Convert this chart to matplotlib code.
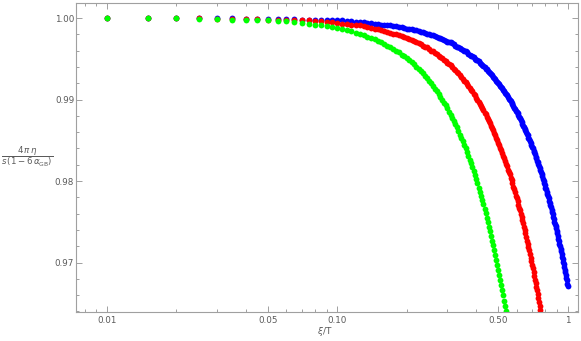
import matplotlib
matplotlib.use("Agg")
import matplotlib.pyplot as plt
import matplotlib.ticker as mticker

# sample points xi/T (step 0.005)
xi_T = [
    0.010, 0.015, 0.020, 0.025, 0.030, 0.035, 0.040, 0.045, 0.050, 0.055,
    0.060, 0.065, 0.070, 0.075, 0.080, 0.085, 0.090, 0.095, 0.100, 0.105,
    0.110, 0.115, 0.120, 0.125, 0.130, 0.135, 0.140, 0.145, 0.150, 0.155,
    0.160, 0.165, 0.170, 0.175, 0.180, 0.185, 0.190, 0.195, 0.200, 0.205,
    0.210, 0.215, 0.220, 0.225, 0.230, 0.235, 0.240, 0.245, 0.250, 0.255,
    0.260, 0.265, 0.270, 0.275, 0.280, 0.285, 0.290, 0.295, 0.300, 0.305,
    0.310, 0.315, 0.320, 0.325, 0.330, 0.335, 0.340, 0.345, 0.350, 0.355,
    0.360, 0.365, 0.370, 0.375, 0.380, 0.385, 0.390, 0.395, 0.400, 0.405,
    0.410, 0.415, 0.420, 0.425, 0.430, 0.435, 0.440, 0.445, 0.450, 0.455,
    0.460, 0.465, 0.470, 0.475, 0.480, 0.485, 0.490, 0.495, 0.500, 0.505,
    0.510, 0.515, 0.520, 0.525, 0.530, 0.535, 0.540, 0.545, 0.550, 0.555,
    0.560, 0.565, 0.570, 0.575, 0.580, 0.585, 0.590, 0.595, 0.600, 0.605,
    0.610, 0.615, 0.620, 0.625, 0.630, 0.635, 0.640, 0.645, 0.650, 0.655,
    0.660, 0.665, 0.670, 0.675, 0.680, 0.685, 0.690, 0.695, 0.700, 0.705,
    0.710, 0.715, 0.720, 0.725, 0.730, 0.735, 0.740, 0.745, 0.750, 0.755,
    0.760, 0.765, 0.770, 0.775, 0.780, 0.785, 0.790, 0.795, 0.800, 0.805,
    0.810, 0.815, 0.820, 0.825, 0.830, 0.835, 0.840, 0.845, 0.850, 0.855,
    0.860, 0.865, 0.870, 0.875, 0.880, 0.885, 0.890, 0.895, 0.900, 0.905,
    0.910, 0.915, 0.920, 0.925, 0.930, 0.935, 0.940, 0.945, 0.950, 0.955,
    0.960, 0.965, 0.970, 0.975, 0.980, 0.985, 0.990, 0.995, 1.000,
]

ratio_blue = [
    1.0000, 1.0000, 1.0000, 1.0000, 1.0000, 1.0000, 0.9999, 0.9999, 0.9999, 0.9999,
    0.9999, 0.9999, 0.9998, 0.9998, 0.9998, 0.9998, 0.9997, 0.9997, 0.9997, 0.9997,
    0.9996, 0.9996, 0.9995, 0.9995, 0.9995, 0.9994, 0.9994, 0.9993, 0.9993, 0.9992,
    0.9992, 0.9991, 0.9991, 0.9990, 0.9990, 0.9989, 0.9989, 0.9988, 0.9987, 0.9987,
    0.9986, 0.9985, 0.9985, 0.9984, 0.9983, 0.9983, 0.9982, 0.9981, 0.9980, 0.9979,
    0.9979, 0.9978, 0.9977, 0.9976, 0.9975, 0.9974, 0.9973, 0.9972, 0.9971, 0.9970,
    0.9970, 0.9969, 0.9968, 0.9966, 0.9965, 0.9964, 0.9963, 0.9962, 0.9961, 0.9960,
    0.9959, 0.9958, 0.9956, 0.9955, 0.9954, 0.9953, 0.9952, 0.9950, 0.9949, 0.9948,
    0.9947, 0.9945, 0.9944, 0.9942, 0.9941, 0.9940, 0.9938, 0.9937, 0.9935, 0.9934,
    0.9933, 0.9931, 0.9930, 0.9928, 0.9927, 0.9925, 0.9923, 0.9922, 0.9920, 0.9919,
    0.9917, 0.9915, 0.9914, 0.9912, 0.9910, 0.9908, 0.9907, 0.9905, 0.9903, 0.9901,
    0.9900, 0.9898, 0.9896, 0.9894, 0.9892, 0.9890, 0.9888, 0.9886, 0.9885, 0.9883,
    0.9881, 0.9879, 0.9877, 0.9875, 0.9873, 0.9870, 0.9868, 0.9866, 0.9864, 0.9862,
    0.9860, 0.9858, 0.9856, 0.9853, 0.9851, 0.9849, 0.9847, 0.9844, 0.9842, 0.9840,
    0.9837, 0.9835, 0.9833, 0.9830, 0.9828, 0.9825, 0.9823, 0.9821, 0.9818, 0.9816,
    0.9813, 0.9811, 0.9808, 0.9806, 0.9803, 0.9800, 0.9798, 0.9795, 0.9792, 0.9790,
    0.9787, 0.9784, 0.9782, 0.9779, 0.9776, 0.9773, 0.9771, 0.9768, 0.9765, 0.9762,
    0.9759, 0.9756, 0.9753, 0.9750, 0.9747, 0.9745, 0.9742, 0.9739, 0.9736, 0.9732,
    0.9729, 0.9726, 0.9723, 0.9720, 0.9717, 0.9714, 0.9711, 0.9707, 0.9704, 0.9701,
    0.9698, 0.9694, 0.9691, 0.9688, 0.9685, 0.9681, 0.9678, 0.9674, 0.9671,
]

ratio_red = [
    1.0000, 1.0000, 1.0000, 1.0000, 0.9999, 0.9999, 0.9999, 0.9999, 0.9998, 0.9998,
    0.9998, 0.9997, 0.9997, 0.9997, 0.9996, 0.9996, 0.9995, 0.9995, 0.9994, 0.9993,
    0.9993, 0.9992, 0.9991, 0.9991, 0.9990, 0.9989, 0.9988, 0.9987, 0.9986, 0.9985,
    0.9984, 0.9983, 0.9982, 0.9981, 0.9980, 0.9979, 0.9978, 0.9977, 0.9976, 0.9974,
    0.9973, 0.9972, 0.9971, 0.9969, 0.9968, 0.9966, 0.9965, 0.9964, 0.9962, 0.9960,
    0.9959, 0.9957, 0.9956, 0.9954, 0.9952, 0.9951, 0.9949, 0.9947, 0.9945, 0.9943,
    0.9942, 0.9940, 0.9938, 0.9936, 0.9934, 0.9932, 0.9930, 0.9928, 0.9925, 0.9923,
    0.9921, 0.9919, 0.9917, 0.9914, 0.9912, 0.9910, 0.9907, 0.9905, 0.9902, 0.9900,
    0.9897, 0.9895, 0.9892, 0.9890, 0.9887, 0.9884, 0.9882, 0.9879, 0.9876, 0.9874,
    0.9871, 0.9868, 0.9865, 0.9862, 0.9859, 0.9856, 0.9853, 0.9850, 0.9847, 0.9844,
    0.9841, 0.9838, 0.9834, 0.9831, 0.9828, 0.9825, 0.9821, 0.9818, 0.9814, 0.9811,
    0.9808, 0.9804, 0.9801, 0.9797, 0.9793, 0.9790, 0.9786, 0.9782, 0.9779, 0.9775,
    0.9771, 0.9767, 0.9764, 0.9760, 0.9756, 0.9752, 0.9748, 0.9744, 0.9740, 0.9736,
    0.9731, 0.9727, 0.9723, 0.9719, 0.9715, 0.9710, 0.9706, 0.9702, 0.9697, 0.9693,
    0.9688, 0.9684, 0.9679, 0.9675, 0.9670, 0.9666, 0.9661, 0.9656, 0.9652, 0.9647,
    0.9642, 0.9637,
]

ratio_green = [
    1.0000, 1.0000, 1.0000, 0.9999, 0.9999, 0.9998, 0.9998, 0.9997, 0.9997, 0.9996,
    0.9996, 0.9995, 0.9994, 0.9993, 0.9992, 0.9991, 0.9990, 0.9989, 0.9988, 0.9986,
    0.9985, 0.9984, 0.9982, 0.9981, 0.9979, 0.9977, 0.9976, 0.9974, 0.9972, 0.9970,
    0.9968, 0.9966, 0.9964, 0.9962, 0.9960, 0.9958, 0.9955, 0.9953, 0.9951, 0.9948,
    0.9946, 0.9943, 0.9940, 0.9937, 0.9935, 0.9932, 0.9929, 0.9926, 0.9923, 0.9920,
    0.9917, 0.9913, 0.9910, 0.9907, 0.9903, 0.9900, 0.9896, 0.9893, 0.9889, 0.9885,
    0.9881, 0.9877, 0.9874, 0.9870, 0.9866, 0.9861, 0.9857, 0.9853, 0.9849, 0.9844,
    0.9840, 0.9835, 0.9831, 0.9826, 0.9822, 0.9817, 0.9812, 0.9807, 0.9802, 0.9797,
    0.9792, 0.9787, 0.9782, 0.9777, 0.9772, 0.9766, 0.9761, 0.9755, 0.9750, 0.9744,
    0.9739, 0.9733, 0.9727, 0.9721, 0.9715, 0.9709, 0.9703, 0.9697, 0.9691, 0.9685,
    0.9679, 0.9672, 0.9666, 0.9660, 0.9653, 0.9647, 0.9640,
]

x_major = [0.01, 0.05, 0.10, 0.50, 1.0]
x_major_labels = ["0.01", "0.05", "0.10", "0.50", "1"]
x_minor = [0.008, 0.009, 0.02, 0.03, 0.04, 0.06, 0.07, 0.08, 0.09,
           0.2, 0.3, 0.4, 0.6, 0.7, 0.8, 0.9]
y_major = [0.97, 0.98, 0.99, 1.00]

frame_col = "#a0a0a0"
text_col = "#5a5a5a"

fig = plt.figure(figsize=(5.81, 3.41), dpi=100)
ax = fig.add_axes([76.3 / 581, 1 - 312.3 / 341, (577.7 - 76.3) / 581, (312.3 - 2.7) / 341])

for ys, col in [(ratio_blue, "#0000ff"), (ratio_red, "#ff0000"), (ratio_green, "#00ff00")]:
    ax.plot(xi_T[:len(ys)], ys, "o", ms=4.2, mew=0, color=col)

ax.set_xscale("log")
ax.set_xlim(0.00736, 1.104)
ax.set_ylim(0.96389, 1.00188)

ax.xaxis.set_major_locator(mticker.FixedLocator(x_major))
ax.xaxis.set_major_formatter(mticker.FixedFormatter(x_major_labels))
ax.xaxis.set_minor_locator(mticker.FixedLocator(x_minor))
ax.xaxis.set_minor_formatter(mticker.NullFormatter())
ax.yaxis.set_major_locator(mticker.FixedLocator(y_major))
ax.yaxis.set_major_formatter(mticker.FormatStrFormatter("%.2f"))
ax.yaxis.set_minor_locator(mticker.MultipleLocator(0.002))

for s in ax.spines.values():
    s.set_color(frame_col)
    s.set_linewidth(0.8)
ax.tick_params(which="both", direction="in", top=True, right=True, color=frame_col,
               width=0.7, labelcolor=text_col, labelsize=6.3)
ax.tick_params(which="major", length=4.5)
ax.tick_params(which="minor", length=2.5)
ax.tick_params(axis="x", pad=3)
ax.tick_params(axis="y", pad=1.5)

fig.text(27.5 / 581, 1 - 157 / 341, r"$\dfrac{4\,\pi\,\eta}{s\,(1-6\,\alpha_{\mathrm{GB}})}$",
         ha="center", va="center", fontsize=6.2, color=text_col)
fig.text(325 / 581, 1 - 332 / 341, r"$\xi$/T", ha="center", va="center",
         fontsize=6.5, color=text_col)

fig.savefig("out.png", dpi=100)
plt.close(fig)
